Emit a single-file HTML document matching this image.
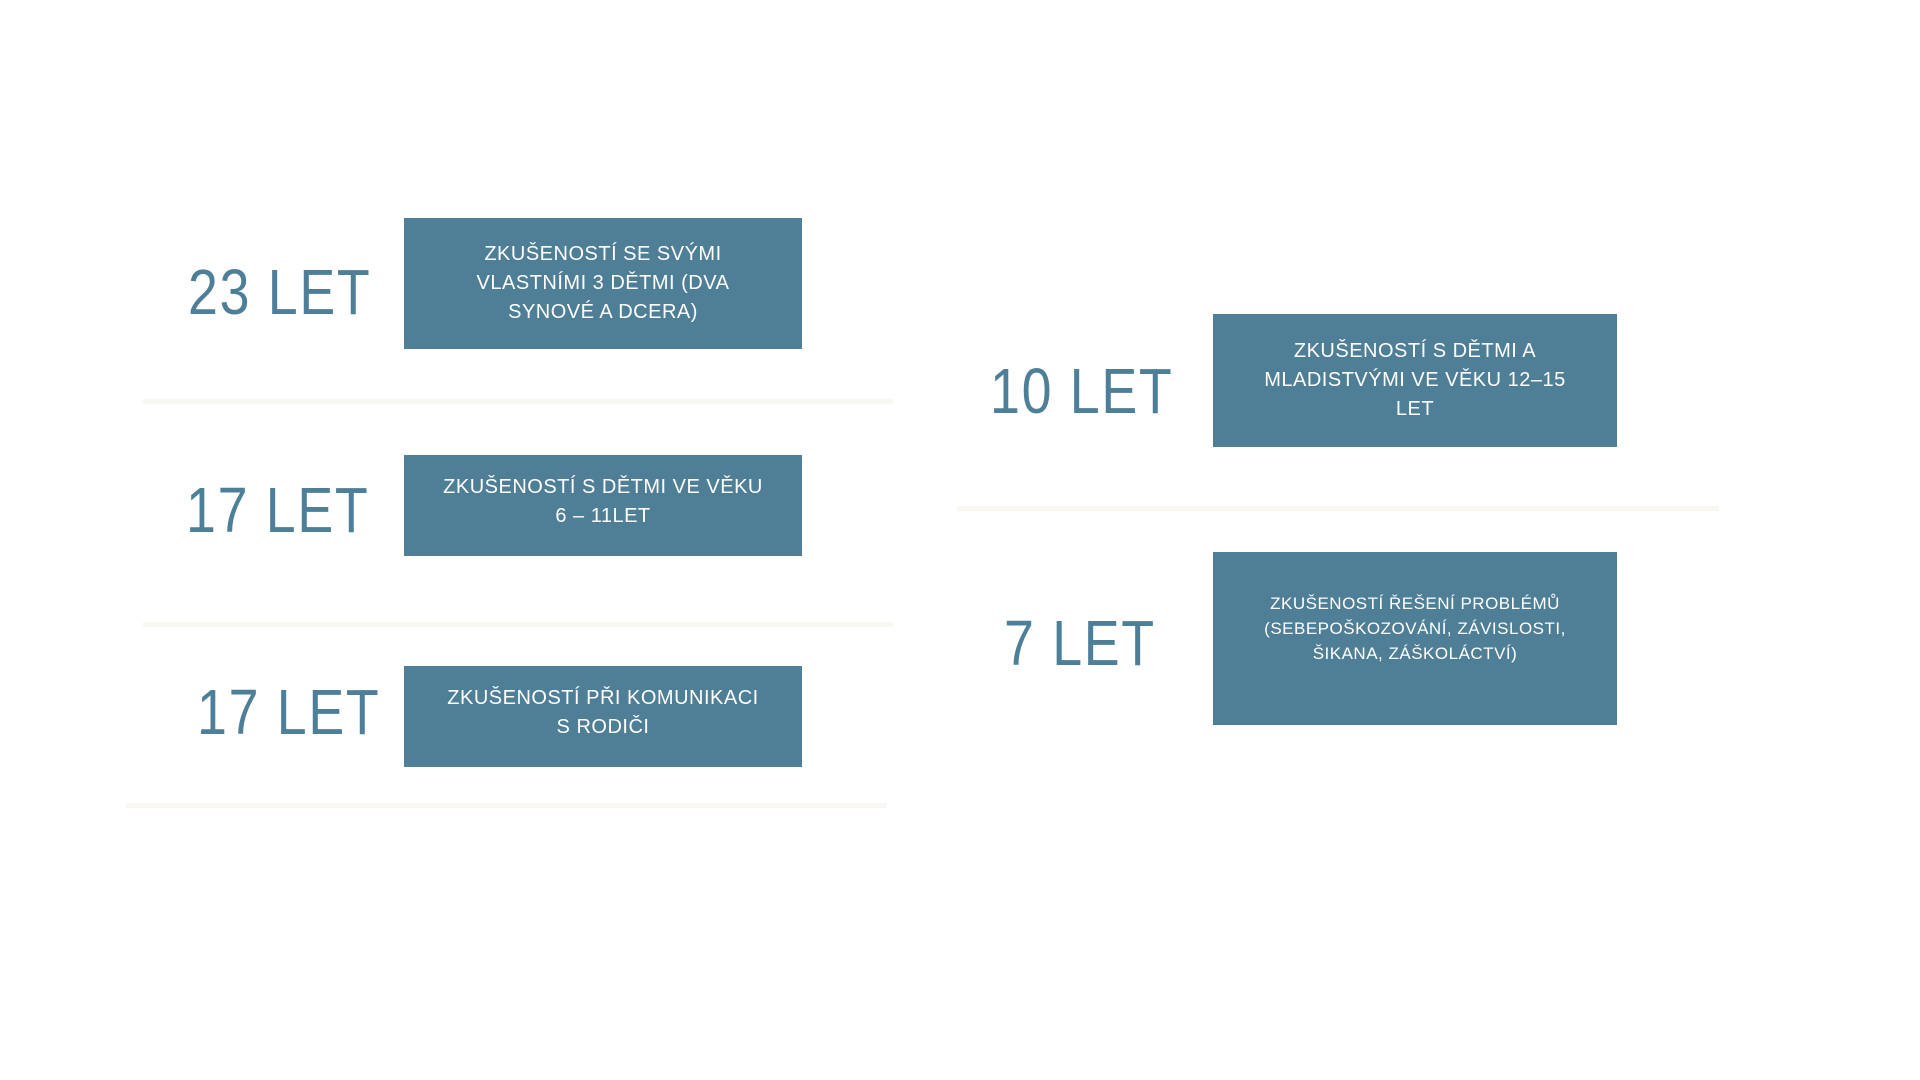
<!DOCTYPE html>
<html><head><meta charset="utf-8"><style>
body{margin:0;width:1920px;height:1080px;background:#fff;position:relative;overflow:hidden;font-family:"Liberation Sans",sans-serif}
.b{position:absolute;background:#4E7F96;color:#fff;display:flex;align-items:center;justify-content:center;text-align:center;font-size:20px;line-height:29px;letter-spacing:0.5px;padding:0 14px;box-sizing:border-box}
.n{position:absolute;color:#4D7F98;font-size:64px;letter-spacing:2px;line-height:1;transform:translateY(-50%) scaleX(0.84);transform-origin:0 50%;white-space:nowrap}
.l{position:absolute;height:5px;background:#F8F7F2}
</style></head><body>
<div class="l" style="left:143px;top:399px;width:750px"></div>
<div class="l" style="left:143px;top:622px;width:750px"></div>
<div class="l" style="left:126px;top:803px;width:761px"></div>
<div class="l" style="left:957px;top:506px;width:762px"></div>

<div class="n" style="left:188px;top:292px">23 LET</div>
<div class="n" style="left:186px;top:510px">17 LET</div>
<div class="n" style="left:197px;top:712px">17 LET</div>
<div class="n" style="left:990px;top:391px">10 LET</div>
<div class="n" style="left:1004px;top:643px">7 LET</div>

<div class="b" style="left:404px;top:218px;width:398px;height:131px;padding:0 40px">ZKUŠENOSTÍ SE SVÝMI VLASTNÍMI 3 DĚTMI (DVA SYNOVÉ A DCERA)</div>
<div class="b" style="left:404px;top:455px;width:398px;height:101px;padding-bottom:8px">ZKUŠENOSTÍ&nbsp;S&nbsp;DĚTMI&nbsp;VE&nbsp;VĚKU<br>6 – 11LET</div>
<div class="b" style="left:404px;top:666px;width:398px;height:101px;padding-bottom:8px">ZKUŠENOSTÍ&nbsp;PŘI&nbsp;KOMUNIKACI<br>S RODIČI</div>
<div class="b" style="left:1213px;top:314px;width:404px;height:133px;padding:0 30px">ZKUŠENOSTÍ S DĚTMI A MLADISTVÝMI VE VĚKU 12–15 LET</div>
<div class="b" style="left:1213px;top:552px;width:404px;height:173px;font-size:17px;line-height:25px;padding:0 14px 20px">ZKUŠENOSTÍ ŘEŠENÍ PROBLÉMŮ (SEBEPOŠKOZOVÁNÍ, ZÁVISLOSTI, ŠIKANA, ZÁŠKOLÁCTVÍ)</div>
</body></html>
